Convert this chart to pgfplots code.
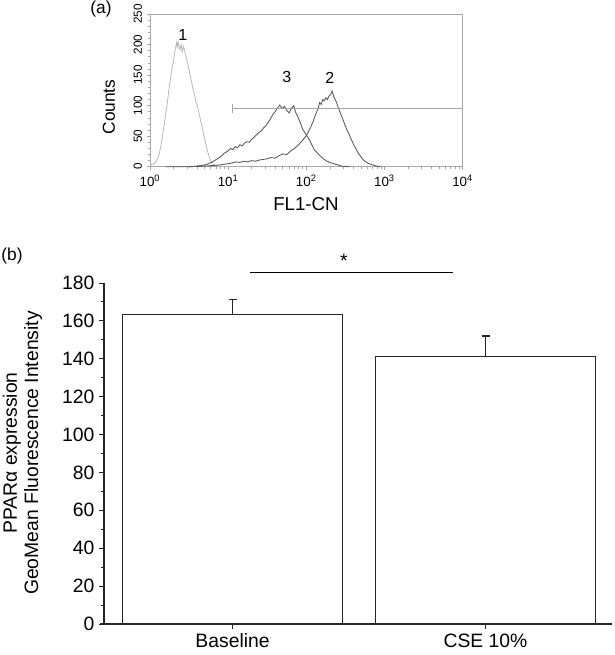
\documentclass[border=0pt]{standalone}
\usepackage{fontspec}
\setmainfont{Liberation Sans}
\usepackage{pgfplots}
\pgfplotsset{compat=1.18}
\begin{document}
\begin{tikzpicture}[x=0.75pt,y=0.75pt]
\useasboundingbox (0,0) rectangle (614,655);
% ---------------- panel (a)
\begin{axis}[at={(112.5pt,366.2pt)}, anchor=south west, scale only axis,
  width=234.5pt, height=114.5pt,
  xmin=0, xmax=4, ymin=0, ymax=250,
  axis line style={gray!70, line width=0.6pt},
  tick style={gray!70, line width=0.5pt},
  tick pos=left, tick align=outside,
  major tick length=2.5pt, minor tick length=1.5pt,
  xtick={0,1,2,3,4},
  xticklabels={10\textsuperscript{0},10\textsuperscript{1},10\textsuperscript{2},10\textsuperscript{3},10\textsuperscript{4}},
  minor xtick={0.301,0.477,0.602,0.699,0.778,0.845,0.903,0.954,
               1.301,1.477,1.602,1.699,1.778,1.845,1.903,1.954,
               2.301,2.477,2.602,2.699,2.778,2.845,2.903,2.954,
               3.301,3.477,3.602,3.699,3.778,3.845,3.903,3.954},
  ytick={0,50,100,150,200,250}, minor y tick num=4,
  yticklabel style={rotate=90, anchor=south, font=\fontsize{8.8}{9}\selectfont},
  xticklabel style={font=\fontsize{10}{11}\selectfont},
  /pgf/number format/assume math mode=true,
  clip=false]
% curve 1 (light)
\addplot[gray!55, line width=0.6pt] coordinates {
(0.000,22) (0.005,6) (0.02,3) (0.04,4) (0.06,6) (0.08,9) (0.10,14) (0.12,22)
(0.14,35) (0.16,50) (0.18,68) (0.20,85) (0.22,103) (0.24,125) (0.26,142)
(0.28,160) (0.30,172) (0.32,190) (0.34,203) (0.35,196) (0.36,205) (0.38,192)
(0.40,200) (0.41,188) (0.43,197) (0.45,185) (0.47,176) (0.49,165) (0.51,152)
(0.53,140) (0.55,127) (0.57,118) (0.59,104) (0.61,98) (0.63,86) (0.65,74)
(0.67,63) (0.69,50) (0.71,40) (0.73,28) (0.75,19) (0.77,12) (0.79,7)
(0.81,4) (0.84,2) (0.88,1) (0.95,0) (1.05,0)};
% curve 2
\addplot[black!65, line width=0.65pt] coordinates {
(0.20,0) (0.50,0) (0.70,1) (0.80,2) (0.90,3) (1.00,5) (1.05,6) (1.10,8)
(1.15,7) (1.20,9) (1.25,8) (1.30,10) (1.35,9) (1.40,11) (1.45,12) (1.50,13)
(1.55,15) (1.60,14) (1.65,18) (1.70,21) (1.75,20) (1.80,26) (1.85,30)
(1.90,36) (1.95,43) (2.00,51) (2.03,58) (2.06,66) (2.09,75) (2.12,86)
(2.15,95) (2.17,105) (2.19,102) (2.21,110) (2.23,108) (2.25,113) (2.27,110)
(2.29,116) (2.31,118) (2.33,124) (2.35,115) (2.37,110) (2.39,104) (2.41,96)
(2.43,90) (2.46,80) (2.49,70) (2.52,60) (2.55,52) (2.58,43) (2.61,35)
(2.64,28) (2.67,21) (2.70,16) (2.73,11) (2.76,8) (2.80,5) (2.85,3)
(2.90,1) (2.95,0)};
% curve 3
\addplot[black!65, line width=0.65pt] coordinates {
(0.50,0) (0.60,1) (0.70,3) (0.75,5) (0.80,8) (0.85,12) (0.90,16) (0.95,22)
(1.00,26) (1.03,30) (1.06,28) (1.09,33) (1.12,31) (1.15,36) (1.18,34)
(1.21,39) (1.24,41) (1.27,40) (1.30,45) (1.33,48) (1.36,52) (1.39,56)
(1.42,58) (1.45,63) (1.48,67) (1.51,72) (1.54,78) (1.57,85) (1.60,90)
(1.63,96) (1.66,101) (1.69,95) (1.72,99) (1.75,92) (1.78,88) (1.81,96)
(1.84,100) (1.86,90) (1.89,82) (1.92,73) (1.95,62) (1.98,56) (2.01,50)
(2.04,44) (2.07,36) (2.10,28) (2.13,24) (2.16,20) (2.20,15) (2.25,10)
(2.30,7) (2.35,5) (2.40,3) (2.45,1) (2.55,0)};
% gate marker
\addplot[gray!70, line width=0.7pt] coordinates {(1.06,95) (4,95)};
\addplot[gray!70, line width=0.7pt] coordinates {(1.06,88) (1.06,102)};
\addplot[gray!70, line width=0.7pt] coordinates {(4,88) (4,102)};
\node[font=\fontsize{12}{13}\selectfont] at (axis cs:0.42,216) {1};
\node[font=\fontsize{12}{13}\selectfont] at (axis cs:1.75,147) {3};
\node[font=\fontsize{12}{13}\selectfont] at (axis cs:2.30,145) {2};
\end{axis}
\node[font=\fontsize{13}{14}\selectfont] at (101,646) {(a)};
\node[rotate=90, font=\fontsize{13}{14}\selectfont] at (109,548) {Counts};
\node[font=\fontsize{14}{15}\selectfont] at (306,451) {FL1-CN};
% ---------------- panel (b)
\begin{axis}[at={(78pt,23.25pt)}, anchor=south west, scale only axis,
  width=381pt, height=255.75pt,
  xmin=-0.508, xmax=1.5, ymin=0, ymax=180,
  axis x line=bottom, axis y line=left,
  axis line style={-, line width=0.8pt, black!85},
  xtick={0,1}, xticklabels={Baseline, CSE 10\%},
  ytick={0,20,...,180}, minor y tick num=1,
  tick align=outside, major tick length=3.75pt, minor tick length=2.2pt,
  tick style={line width=0.7pt, black!85},
  ticklabel style={font=\fontsize{14.5}{16}\selectfont},
  /pgf/number format/assume math mode=true,
  clip=false]
\addplot[ybar, bar width=0.87, fill=white, draw=black!85, line width=0.9pt,
  error bars/.cd, y dir=plus, y explicit,
  error bar style={line width=1pt, black!85},
  error mark options={line width=1pt, mark size=3pt, rotate=90, black!85}]
  coordinates {(0,163.3) +- (0,8.1) (1,141) +- (0,11)};
\draw[line width=0.9pt] (axis cs:0.069,185.6) -- (axis cs:0.871,185.6);
\node[font=\fontsize{14.5}{16}\selectfont] at (axis cs:0.44,191.5) {*};
\end{axis}
\draw[line width=0.8pt, black!85] (100,31) -- (104,31);
\node[font=\fontsize{13}{14}\selectfont] at (12,399) {(b)};
\node[rotate=90, align=center, font=\fontsize{14.5}{16}\selectfont] at (22.5,202)
  {PPARα expression\\GeoMean Fluorescence Intensity};
\end{tikzpicture}
\end{document}
